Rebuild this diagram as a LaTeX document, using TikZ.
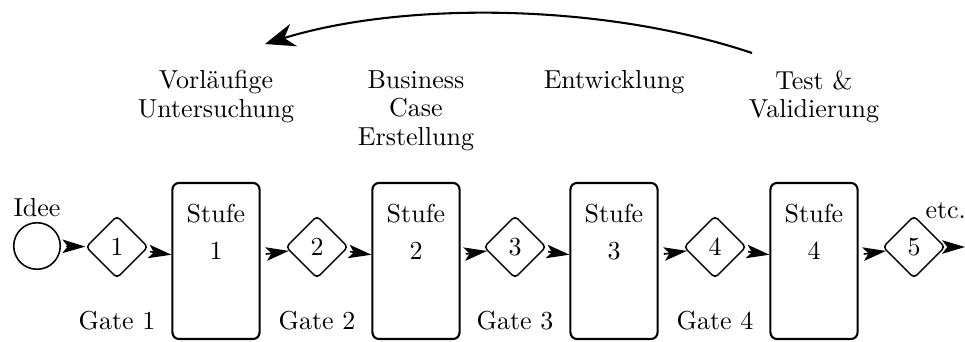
\documentclass[tikz,border=0pt]{standalone}
\usepackage{tikz}
\usetikzlibrary{shapes}
\usetikzlibrary{positioning}
\usetikzlibrary{arrows.meta}

\begin{document}
\begin{tikzpicture}[x=0.3846pt,y=-0.3846pt]
% % Styles
 \tikzset{
 	gate/.style={draw, semithick, diamond, rounded corners=1.5pt, minimum size=24pt, inner sep=0pt},
 	stufe/.style={draw, thick, rectangle, rounded corners=2.5pt, minimum width=33.5pt, minimum height=60pt},
 	flow/.style={semithick, shorten <=2pt, -{Stealth[length=8.8pt,width=5.2pt,inset=2pt]}},
 	phase/.style={anchor=north, align=center, inner sep=0pt, font=\fontsize{10pt}{11pt}\selectfont}
 }
 \useasboundingbox (0,0) rectangle (965,342);
% % Start and gates
 \node[draw, semithick, circle, minimum size=17.9pt, inner sep=0pt] (idee) at (37,246) {};
 \node[gate] (g1) at (117,247) {1};
 \node[gate] (g2) at (317,247) {2};
 \node[gate] (g3) at (515,247) {3};
 \node[gate] (g4) at (715,247) {4};
 \node[gate] (g5) at (914,247) {5};
% % Stages
 \node[stufe] (s1) at (216,261) {};
 \node[stufe] (s2) at (416,261) {};
 \node[stufe] (s3) at (614,261) {};
 \node[stufe] (s4) at (814,261) {};
 \node[anchor=north, align=center, inner sep=0pt] (t1) at ([yshift=-8.5pt]s1.north) {Stufe\\[2pt]1};
 \node[anchor=north, align=center, inner sep=0pt] (t2) at ([yshift=-8.5pt]s2.north) {Stufe\\[2pt]2};
 \node[anchor=north, align=center, inner sep=0pt] (t3) at ([yshift=-8.5pt]s3.north) {Stufe\\[2pt]3};
 \node[anchor=north, align=center, inner sep=0pt] (t4) at ([yshift=-8.5pt]s4.north) {Stufe\\[2pt]4};
% % Labels
 \node[above=1.9pt of idee, inner sep=0pt] (ideelabel) {Idee};
 \node[below=12pt of g1, inner sep=0pt] (gl1) {Gate 1};
 \node[below=12pt of g2, inner sep=0pt] (gl2) {Gate 2};
 \node[below=12pt of g3, inner sep=0pt] (gl3) {Gate 3};
 \node[below=12pt of g4, inner sep=0pt] (gl4) {Gate 4};
 \node[anchor=base west, inner sep=0pt] (etc) at ([shift={(11,3)}]g5.north) {etc.};
% % Phases
 \node[phase] (p1) at (s1 |- 0,70) {Vorläufige\\Untersuchung};
 \node[phase] (p2) at (s2 |- 0,70) {Business\\Case\\Erstellung};
 \node[phase] (p3) at (s3 |- 0,70) {Entwicklung};
 \node[phase] (p4) at (s4 |- 0,70) {Test \&\\Validierung};
% % Connectors
 \draw[flow] (idee) -- (g1);
 \draw[flow] (g1) -- (s1);
 \draw[flow] (s1) -- (g2);
 \draw[flow] (g2) -- (s2);
 \draw[flow] (s2) -- (g3);
 \draw[flow] (g3) -- (s3);
 \draw[flow] (s3) -- (g4);
 \draw[flow] (g4) -- (s4);
 \draw[flow] (s4) -- (g5);
 \coordinate (out) at (965,247);
 \draw[flow] (g5) -- (out);
% % back to the start
 \coordinate (back) at ([shift={(-62,-17)}]p4.north);
 \coordinate (front) at ([shift={(49,-26)}]p1.north);
 \draw[thick, -{Stealth[length=11.5pt,width=9pt]}] (back) .. controls (600,2) and (400,2) .. (front);
\end{tikzpicture}
\end{document}
